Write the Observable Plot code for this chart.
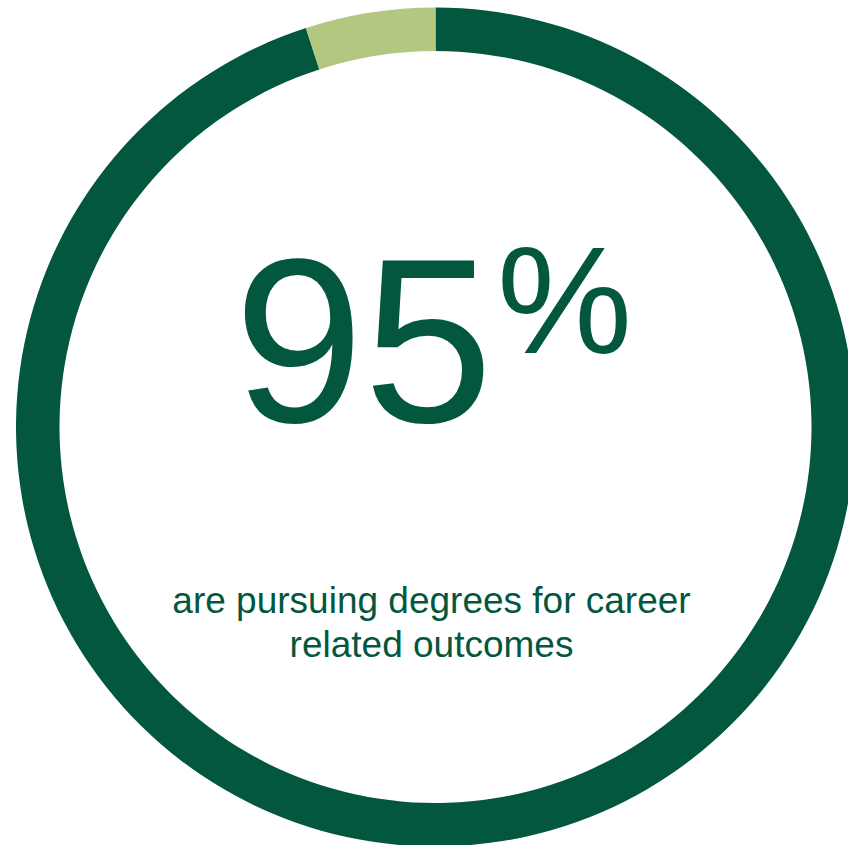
<!DOCTYPE html>
<html><head><meta charset="utf-8">
<script src="https://cdn.jsdelivr.net/npm/d3@7"></script>
<script src="https://cdn.jsdelivr.net/npm/@observablehq/plot@0.6"></script>
<style>html,body{margin:0;padding:0;background:#fff} svg{display:block}</style>
</head><body><div id="chart"></div>
<script>
// ---- data ----
const categories = ["Career related outcomes", "Other"];
const shares = [95, 5];
const colors = ["#03573F", "#B3C781"];
const headlineValue = "95";
const headlineSuffix = "%";
const captionLines = ["are pursuing degrees for career", "related outcomes"];

const slices = categories.map((c, i) => ({category: c, share: shares[i], color: colors[i]}));

// ---- layout ----
const W = 848, H = 845;
const cx = 435.5, cy = 427, R = 419.5, innerRatio = 376 / 419.5;
const font = "'Liberation Sans', Arial, Helvetica, sans-serif";
const ink = "#03573F";

function ring(index, scales) {
  const x0 = scales.x(0), y0 = scales.y(0);
  const r = scales.x(1) - scales.x(0);
  const pie = d3.pie().sort(null).value(d => d.share);
  const arc = d3.arc().innerRadius(r * innerRatio).outerRadius(r);
  const g = d3.create("svg:g").attr("transform", `translate(${x0},${y0})`);
  g.selectAll("path").data(pie(slices)).join("path")
    .attr("d", arc).attr("fill", d => d.data.color);
  return g.node();
}

const chart = Plot.plot({
  width: W, height: H,
  margin: 0,
  x: {domain: [-cx / R, (W - cx) / R], axis: null},
  y: {domain: [-(H - cy) / R, cy / R], axis: null},
  style: {background: "#fff", overflow: "visible"},
  marks: [
    ring,
    Plot.text([headlineValue], {x: 0, y: 0, text: d => d, textAnchor: "start", lineAnchor: "bottom",
      dx: -202, dy: -6, fontSize: 233, fontFamily: font, fill: ink}),
    Plot.text([headlineSuffix], {x: 0, y: 0, text: d => d, textAnchor: "start", lineAnchor: "bottom",
      dx: 61, dy: -75, fontSize: 152, fontFamily: font, fill: ink}),
    Plot.text([captionLines.join("\n")], {x: 0, y: 0, text: d => d, textAnchor: "middle", lineAnchor: "bottom",
      lineHeight: 44 / 37, dx: -4.5, dy: 229, fontSize: 37, fontFamily: font, fill: ink})
  ]
});
document.getElementById("chart").append(chart);
</script>
</body></html>
